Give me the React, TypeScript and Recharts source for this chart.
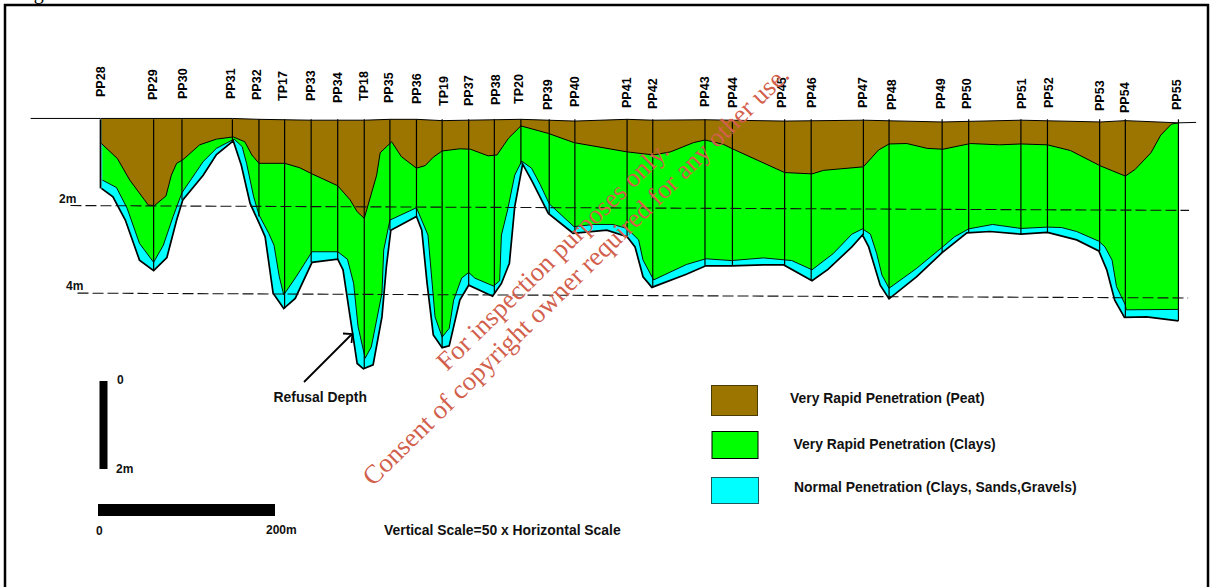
import { Area, ComposedChart, ReferenceLine, XAxis, YAxis } from "recharts";

// chainage along the section in metres, depth below datum in metres
const stationNames = [
  "PP28", "PP29", "PP30", "PP31", "PP32", "TP17", "PP33", "PP34", "TP18", "PP35", "PP36",
  "TP19", "PP37", "PP38", "TP20", "PP39", "PP40", "PP41", "PP42", "PP43", "PP44", "PP45",
  "PP46", "PP47", "PP48", "PP49", "PP50", "PP51", "PP52", "PP53", "PP54", "PP55",
];
const stationChainage = [
  0, 60, 92, 149, 179, 208, 238, 268, 298, 327, 357, 386, 416, 445, 475, 507, 536, 595, 624,
  683, 714, 773, 803, 862, 891, 951, 981, 1040, 1070, 1129, 1158, 1218,
];
const stationRefusal = [
  1.6, 3.47, 1.86, 0.52, 2.24, 4.33, 3.28, 3.21, 5.7, 2.55, 2.24, 5.22, 3.8, 4.0, 1.05, 2.17,
  2.62, 2.7, 3.85, 3.36, 3.36, 3.34, 3.7, 2.66, 4.11, 3.06, 2.61, 2.64, 2.6, 3.02, 4.53, 4.61,
];
// where each rotated label sits: sideways nudge and bottom edge, in page pixels
const labelShift = [
  0, -1, 1, -2, -2, -2, -1, 0, -1, -1, 0, 1, 0, 1, -2, -2, 0, -1, 0, 0, 0, -3, 0, -1, 2, -2,
  -2, 1, 1, 0, -1, -2,
];
const labelBottom = [
  97, 100, 99, 99, 100, 101, 101, 103, 101, 103, 104, 106, 106, 105, 104, 110, 107, 108, 109,
  107, 108, 108, 108, 108, 110, 109, 109, 109, 108, 111, 113, 110,
];

const groundX = [
  -79, 0, 149, 179, 238, 298, 327, 357, 386, 475, 536, 595, 624, 683, 773, 862, 951, 1040, 1130,
  1158, 1218, 1238,
];
const groundDepth = [
  0.01, 0.01, 0.01, 0.03, 0.05, 0.05, 0.03, 0.03, 0.06, 0.03, 0.07, 0.03, 0.05, 0.04, 0.07, 0.05,
  0.09, 0.05, 0.09, 0.06, 0.11, 0.1,
];

const peatX = [
  1, 19, 33, 54, 61, 74, 80, 86, 93, 112, 131, 150, 163, 171, 179, 208, 225, 239, 268, 282, 290,
  298, 312, 316, 329, 340, 357, 367, 376, 386, 406, 418, 438, 448, 461, 475, 506, 535, 595, 625,
  644, 670, 683, 704, 714, 773, 804, 817, 862, 879, 891, 911, 934, 952, 983, 1016, 1040, 1070,
  1096, 1130, 1158, 1169, 1187, 1198, 1210, 1218,
];
const peatDepth = [
  0.58, 0.92, 1.41, 1.98, 1.99, 1.77, 1.3, 1.03, 0.95, 0.61, 0.48, 0.43, 0.54, 0.84, 1.03, 1.03,
  1.13, 1.27, 1.54, 1.86, 2.13, 2.28, 1.3, 0.79, 0.54, 0.88, 1.14, 1.08, 0.89, 0.75, 0.7, 0.71,
  0.86, 0.84, 0.46, 0.18, 0.35, 0.56, 0.77, 0.84, 0.77, 0.56, 0.5, 0.6, 0.7, 1.24, 1.27, 1.19,
  1.11, 0.73, 0.59, 0.58, 0.69, 0.71, 0.58, 0.61, 0.59, 0.61, 0.74, 1.09, 1.32, 1.17, 0.79, 0.39,
  0.14, 0.11,
];

const clayX = [
  2, 18, 30, 44, 60, 71, 82, 92, 116, 131, 151, 160, 165, 173, 179, 190, 196, 202, 207, 221, 239,
  268, 279, 286, 291, 299, 306, 318, 320, 327, 357, 370, 378, 386, 394, 399, 408, 416, 423, 444,
  451, 453, 460, 468, 476, 487, 497, 507, 535, 557, 579, 595, 608, 613, 625, 662, 684, 713, 749,
  781, 804, 828, 849, 861, 870, 877, 883, 891, 922, 951, 965, 981, 1008, 1040, 1070, 1086, 1103,
  1128, 1135, 1143, 1148, 1158, 1159, 1218,
];
const clayDepth = [
  1.41, 1.58, 2.05, 2.85, 3.28, 2.89, 2.24, 1.7, 0.99, 0.69, 0.48, 0.65, 1.03, 1.79, 2.2, 2.62,
  2.89, 3.61, 4.02, 3.61, 3.04, 3.04, 3.21, 3.76, 4.74, 5.46, 5.2, 3.98, 3.0, 2.32, 2.04, 2.66,
  4.52, 4.98, 4.78, 4.14, 3.64, 3.51, 3.64, 3.82, 3.7, 2.66, 2.09, 1.3, 0.98, 1.14, 1.52, 1.95,
  2.47, 2.42, 2.42, 2.51, 2.77, 3.23, 3.68, 3.33, 3.2, 3.24, 3.18, 3.24, 3.45, 3.08, 2.64, 2.52,
  2.64, 3.08, 3.57, 3.87, 3.42, 2.94, 2.7, 2.52, 2.42, 2.51, 2.48, 2.49, 2.58, 2.8, 2.93, 3.23,
  3.83, 4.25, 4.36, 4.35,
];

const refusalX = [
  1, 14, 28, 44, 60, 75, 86, 93, 116, 131, 150, 159, 169, 181, 186, 195, 207, 220, 239, 268, 274,
  282, 290, 297, 308, 318, 323, 328, 357, 363, 369, 376, 386, 394, 406, 416, 443, 453, 462, 468,
  477, 488, 506, 534, 572, 595, 604, 613, 623, 662, 684, 713, 749, 772, 804, 822, 849, 861, 868,
  881, 891, 922, 951, 979, 1005, 1040, 1070, 1103, 1128, 1137, 1146, 1157, 1182, 1218,
];
const refusalDepth = [
  1.6, 1.79, 2.32, 3.23, 3.47, 3.17, 2.32, 1.86, 1.3, 0.83, 0.52, 1.07, 1.94, 2.47, 2.7, 3.98,
  4.33, 4.1, 3.28, 3.21, 3.45, 4.52, 5.58, 5.7, 5.61, 4.52, 3.38, 2.55, 2.24, 2.55, 3.76, 4.93,
  5.22, 5.18, 4.14, 3.8, 4.05, 3.76, 3.3, 2.02, 1.05, 1.45, 2.17, 2.62, 2.55, 2.7, 2.93, 3.61,
  3.85, 3.55, 3.36, 3.36, 3.34, 3.34, 3.7, 3.44, 2.93, 2.66, 2.93, 3.8, 4.11, 3.61, 3.06, 2.61,
  2.58, 2.64, 2.6, 2.77, 3.02, 3.45, 4.14, 4.53, 4.52, 4.61,
];

const legendLabels = [
  "Very Rapid Penetration (Peat)",
  "Very Rapid Penetration (Clays)",
  "Normal Penetration (Clays, Sands,Gravels)",
];

const BROWN = "#9c7500";
const GREEN = "#00ff00";
const CYAN = "#00ffff";
const LABEL_FONT = "'Liberation Sans', Arial, sans-serif";

const toRows = (xs: number[], depths: number[]) =>
  xs.map((x, i) => ({ x, depth: depths[i] }));

function StationTick({ x, index }: any) {
  const px = x + labelShift[index];
  const bottom = labelBottom[index];
  return (
    <text
      transform={`translate(${px + 4.5},${bottom}) rotate(-90)`}
      fontFamily={LABEL_FONT}
      fontSize={12.5}
      fontWeight="bold"
      fill="#000"
    >
      {stationNames[index]}
    </text>
  );
}

function Annotations() {
  const small = { fontFamily: LABEL_FONT, fontSize: 12, fontWeight: "bold", fill: "#111" } as const;
  const text = { ...small, fontSize: 13.9 } as const;
  const swatches = [
    { fill: BROWN, x: 711.5, y: 385.5, w: 46, h: 30, stroke: "#4a3a05" },
    { fill: GREEN, x: 712, y: 431.5, w: 46, h: 27, stroke: "#000" },
    { fill: CYAN, x: 711.5, y: 477.5, w: 47, h: 26, stroke: "#1c5a60" },
  ];
  const legendText = [
    { x: 790, y: 403 },
    { x: 793.5, y: 449 },
    { x: 794, y: 492 },
  ];
  return (
    <svg
      width={1211}
      height={587}
      style={{ position: "absolute", left: 0, top: 0, pointerEvents: "none" }}
    >
      <text x={17} y={-1} fontFamily="'Liberation Serif', serif" fontSize={20} fill="#000">
        Figure
      </text>
      <rect x={5} y={5} width={1203} height={600} fill="none" stroke="#000" strokeWidth={2.5} />

      <text x={59} y={203} {...small}>2m</text>
      <text x={66} y={290} {...small}>4m</text>

      <path d="M304 382 L352 334 M343 333.5 L352.5 334 L351.5 343" fill="none" stroke="#000" strokeWidth={1.8} />
      <text x={273.5} y={402} {...text}>Refusal Depth</text>

      <rect x={99.5} y={381} width={8} height={88} fill="#000" />
      <text x={117} y={384} {...small}>0</text>
      <text x={116} y={473} {...small}>2m</text>
      <rect x={98} y={504} width={177} height={12} fill="#000" />
      <text x={96} y={535} {...small}>0</text>
      <text x={266} y={534} {...small}>200m</text>
      <text x={384} y={535} {...text}>Vertical Scale=50 x Horizontal Scale</text>

      {swatches.map((s, i) => (
        <g key={legendLabels[i]}>
          <rect x={s.x} y={s.y} width={s.w} height={s.h} fill={s.fill} stroke={s.stroke} strokeWidth={1} />
          <text x={legendText[i].x} y={legendText[i].y} {...text}>{legendLabels[i]}</text>
        </g>
      ))}

      <g fontFamily="'Liberation Serif', serif" fontSize={26.6} fill="#d2604c">
        <text transform="translate(447,372) rotate(-44.5)">For inspection purposes only.</text>
        <text transform="translate(373,487) rotate(-44.5)">Consent of copyright owner required for any other use.</text>
      </g>
    </svg>
  );
}

export default function App() {
  return (
    <div style={{ position: "absolute", left: 0, top: 0, width: 1211, height: 587 }}>
      <ComposedChart width={1211} height={587} margin={{ top: 0, right: 0, bottom: 0, left: 0 }}>
        <XAxis
          xAxisId={0}
          dataKey="x"
          type="number"
          orientation="top"
          height={1}
          domain={[-113.6, 1254.8]}
          ticks={stationChainage}
          interval={0}
          axisLine={false}
          tickLine={false}
          tick={<StationTick />}
        />
        <YAxis yAxisId={0} type="number" hide reversed domain={[-2.659, 10.659]} />

        <Area
          name="Normal Penetration"
          data={toRows(refusalX, refusalDepth)}
          dataKey="depth"
          type="linear"
          baseValue={-0.02}
          fill={CYAN}
          fillOpacity={1}
          stroke="#000"
          strokeWidth={1.7}
          dot={false}
          activeDot={false}
          isAnimationActive={false}
        />
        <Area
          name="Very Rapid Penetration (Clays)"
          data={toRows(clayX, clayDepth)}
          dataKey="depth"
          type="linear"
          baseValue={-0.02}
          fill={GREEN}
          fillOpacity={1}
          stroke="#000"
          strokeWidth={0.9}
          dot={false}
          activeDot={false}
          isAnimationActive={false}
        />
        <Area
          name="Very Rapid Penetration (Peat)"
          data={toRows(peatX, peatDepth)}
          dataKey="depth"
          type="linear"
          baseValue={-0.02}
          fill={BROWN}
          fillOpacity={1}
          stroke="#000"
          strokeWidth={1}
          dot={false}
          activeDot={false}
          isAnimationActive={false}
        />
        <Area
          name="Ground"
          data={toRows(groundX, groundDepth)}
          dataKey="depth"
          type="linear"
          baseValue={-0.06}
          fill="#fff"
          fillOpacity={1}
          stroke="#000"
          strokeWidth={1}
          dot={false}
          activeDot={false}
          isAnimationActive={false}
        />

        {stationChainage.map((x, i) => (
          <ReferenceLine
            key={stationNames[i]}
            segment={[
              { x, y: 0.03 },
              { x, y: stationRefusal[i] },
            ]}
            stroke="#000"
            strokeWidth={i === 0 ? 1.8 : 1.2}
          />
        ))}
        <ReferenceLine
          segment={[
            { x: -34, y: 1.99 },
            { x: 1230, y: 2.1 },
          ]}
          stroke="#111"
          strokeWidth={1.1}
          strokeDasharray="11 4"
        />
        <ReferenceLine
          segment={[
            { x: -26, y: 3.98 },
            { x: 1229, y: 4.09 },
          ]}
          stroke="#111"
          strokeWidth={1.1}
          strokeDasharray="11 4"
        />
      </ComposedChart>
      <Annotations />
    </div>
  );
}
